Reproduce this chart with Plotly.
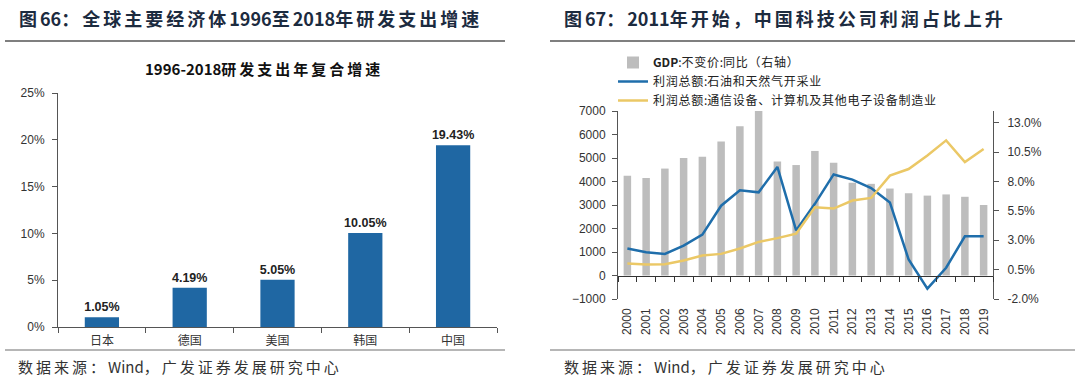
import plotly.graph_objects as go

# ---------------- data ----------------
countries = ["日本", "德国", "美国", "韩国", "中国"]
rd_cagr = [1.05, 4.19, 5.05, 10.05, 19.43]

years = [str(y) for y in range(2000, 2020)]
gdp_growth = [8.5, 8.3, 9.1, 10.0, 10.1, 11.4, 12.7, 14.2, 9.7, 9.4,
              10.6, 9.6, 7.9, 7.8, 7.4, 7.0, 6.8, 6.9, 6.7, 6.0]
oil_profit = [1150, 990, 920, 1270, 1740, 2970, 3630, 3540, 4620, 1920,
              3050, 4300, 4080, 3720, 3110, 680, -560, 330, 1670, 1670]
tech_profit = [510, 470, 480, 640, 850, 920, 1150, 1430, 1590, 1780,
               2900, 2850, 3190, 3300, 4250, 4530, 5110, 5750, 4830, 5380]

left_ticks = [0, 5, 10, 15, 20, 25]
left_ticktext = ["0%", "5%", "10%", "15%", "20%", "25%"]
right_pct_ticks = [-2.0, 0.5, 3.0, 5.5, 8.0, 10.5, 13.0]
right_pct_text = ["-2.0%", "0.5%", "3.0%", "5.5%", "8.0%", "10.5%", "13.0%"]
profit_ticks = list(range(-1000, 7001, 1000))

legend_names = ["<b>GDP</b>:不变价:同比（右轴）",
                "利润总额:石油和天然气开采业",
                "利润总额:通信设备、计算机及其他电子设备制造业"]

W, H = 1080, 384
FONT = "Liberation Sans, Arial, Noto Sans CJK SC"
CJK = "Noto Sans CJK SC, Liberation Sans"
TXT = "#333333"


def px_x(p):
    return p / W


def px_y(p):
    return 1 - p / H


def spaced(s, sp="\u2006"):
    out = []
    for i, ch in enumerate(s):
        out.append(ch)
        if i < len(s) - 1 and ord(ch) > 0x2E80:
            out.append(sp)
    return "".join(out)


fig = go.Figure()

# ---------- left panel ----------
fig.add_trace(go.Bar(
    x=countries, y=rd_cagr, width=0.39,
    marker=dict(color="#1F67A3", line=dict(width=0)),
    text=[f"{v:.2f}%" for v in rd_cagr], textposition="outside",
    constraintext="none",
    textfont=dict(family=FONT, size=12.5, color="#222222"),
    texttemplate="<b>%{text}</b>", cliponaxis=False,
    xaxis="x", yaxis="y", showlegend=False,
))

# ---------- right panel ----------
fig.add_trace(go.Bar(
    x=years, y=gdp_growth, width=0.4, name=spaced(legend_names[0], "\u200a"),
    marker=dict(color="#BDBDBD", line=dict(width=0)),
    xaxis="x2", yaxis="y2",
))
fig.add_trace(go.Scatter(
    x=years, y=oil_profit, mode="lines", name=spaced(legend_names[1], "\u200a"),
    line=dict(color="#1F6EAB", width=2.5),
    xaxis="x2", yaxis="y3",
))
fig.add_trace(go.Scatter(
    x=years, y=tech_profit, mode="lines", name=spaced(legend_names[2], "\u200a"),
    line=dict(color="#EBC866", width=2.5),
    xaxis="x2", yaxis="y3",
))
# invisible trace so the zero-line axis is rendered
fig.add_trace(go.Scatter(x=years, y=[None] * len(years), xaxis="x4", yaxis="y2",
                         showlegend=False, hoverinfo="skip"))

ly0, ly1 = px_y(327), px_y(93)
ry0, ry1 = px_y(299), px_y(111)

fig.update_layout(
    width=W, height=H,
    margin=dict(l=0, r=0, t=0, b=0, pad=0, autoexpand=False),
    paper_bgcolor="white", plot_bgcolor="white",
    font=dict(family=FONT, size=12, color=TXT),
    xaxis=dict(
        domain=[px_x(58), px_x(497)], anchor="y", automargin=False,
        showline=True, linecolor="#555555", linewidth=1,
        ticks="outside", ticklen=5, tickcolor="#555555", tickson="boundaries",
        tickfont=dict(family=CJK, size=12, color=TXT), showgrid=False,
        ticklabelstandoff=3,
    ),
    yaxis=dict(
        domain=[ly0, ly1], anchor="x", range=[0, 25], automargin=False,
        tickvals=left_ticks, ticktext=left_ticktext,
        showline=True, linecolor="#555555", linewidth=1,
        ticks="outside", ticklen=5, tickcolor="#555555",
        showgrid=False, zeroline=False, tickfont=dict(size=12, color=TXT),
        ticklabelstandoff=5,
    ),
    xaxis2=dict(
        domain=[px_x(618), px_x(993)], anchor="y2", automargin=False,
        showline=False, ticks="", tickangle=-90,
        tickfont=dict(size=12, color=TXT), showgrid=False,
        ticklabelstandoff=6,
    ),
    xaxis4=dict(
        overlaying="x2", anchor="free", automargin=False,
        position=ry0 + (ry1 - ry0) / 8,
        showline=True, linecolor="#333333", linewidth=1,
        ticks="outside", ticklen=5, tickcolor="#333333", tickson="boundaries",
        showticklabels=False, showgrid=False, matches="x2",
    ),
    yaxis2=dict(
        domain=[ry0, ry1], anchor="x2", side="right", range=[-2, 14],
        automargin=False,
        tickvals=right_pct_ticks, ticktext=right_pct_text,
        showline=True, linecolor="#555555", linewidth=1,
        ticks="outside", ticklen=5, tickcolor="#555555",
        showgrid=False, zeroline=False, tickfont=dict(size=12, color=TXT),
        ticklabelstandoff=6,
    ),
    yaxis3=dict(
        overlaying="y2", anchor="x2", side="left", range=[-1000, 7000],
        automargin=False, tickvals=profit_ticks,
        showline=True, linecolor="#555555", linewidth=1,
        ticks="outside", ticklen=5, tickcolor="#555555",
        showgrid=False, zeroline=False, tickfont=dict(size=12, color=TXT),
        ticklabelstandoff=4,
    ),
    legend=dict(
        x=px_x(613), y=px_y(48), xanchor="left", yanchor="top",
        bgcolor="rgba(0,0,0,0)", font=dict(family=CJK, size=12, color="#222222"),
        tracegroupgap=0, itemwidth=30,
    ),
)

# ---------- titles, separators, sources ----------
fig.add_annotation(x=px_x(17), y=px_y(18), xref="paper", yref="paper",
                   xanchor="left", yanchor="middle", showarrow=False,
                   text="<b>" + spaced("图66：全球主要经济体1996至2018年研发支出增速") + "</b>",
                   font=dict(family=CJK, size=18, color="#1C2B3F"))
fig.add_annotation(x=px_x(562), y=px_y(18), xref="paper", yref="paper",
                   xanchor="left", yanchor="middle", showarrow=False,
                   text="<b>" + spaced("图67：2011年开始，中国科技公司利润占比上升") + "</b>",
                   font=dict(family=CJK, size=18, color="#1C2B3F"))
fig.add_annotation(x=px_x(262), y=px_y(68), xref="paper", yref="paper",
                   xanchor="center", yanchor="middle", showarrow=False,
                   text="<b>" + spaced("1996-2018研发支出年复合增速", "\u2009") + "</b>",
                   font=dict(family=CJK, size=15, color="#111111"))
for x0 in (16, 562):
    fig.add_annotation(x=px_x(x0), y=px_y(366), xref="paper", yref="paper",
                       xanchor="left", yanchor="middle", showarrow=False,
                       text=spaced("数据来源：Wind，广发证券发展研究中心", "\u2009"),
                       font=dict(family=CJK, size=15, color="#333333"))

for (x0, x1) in ((5, 505), (550, 1075)):
    fig.add_shape(type="line", xref="paper", yref="paper",
                  x0=px_x(x0), x1=px_x(x1), y0=px_y(41), y1=px_y(41),
                  line=dict(color="#555555", width=1.5))
    fig.add_shape(type="line", xref="paper", yref="paper",
                  x0=px_x(x0), x1=px_x(x1), y0=px_y(350), y1=px_y(350),
                  line=dict(color="#9E9E9E", width=1.5))

fig.write_html("out.html", config={"displayModeBar": False},
               post_script="document.body.style.margin='0px';")
